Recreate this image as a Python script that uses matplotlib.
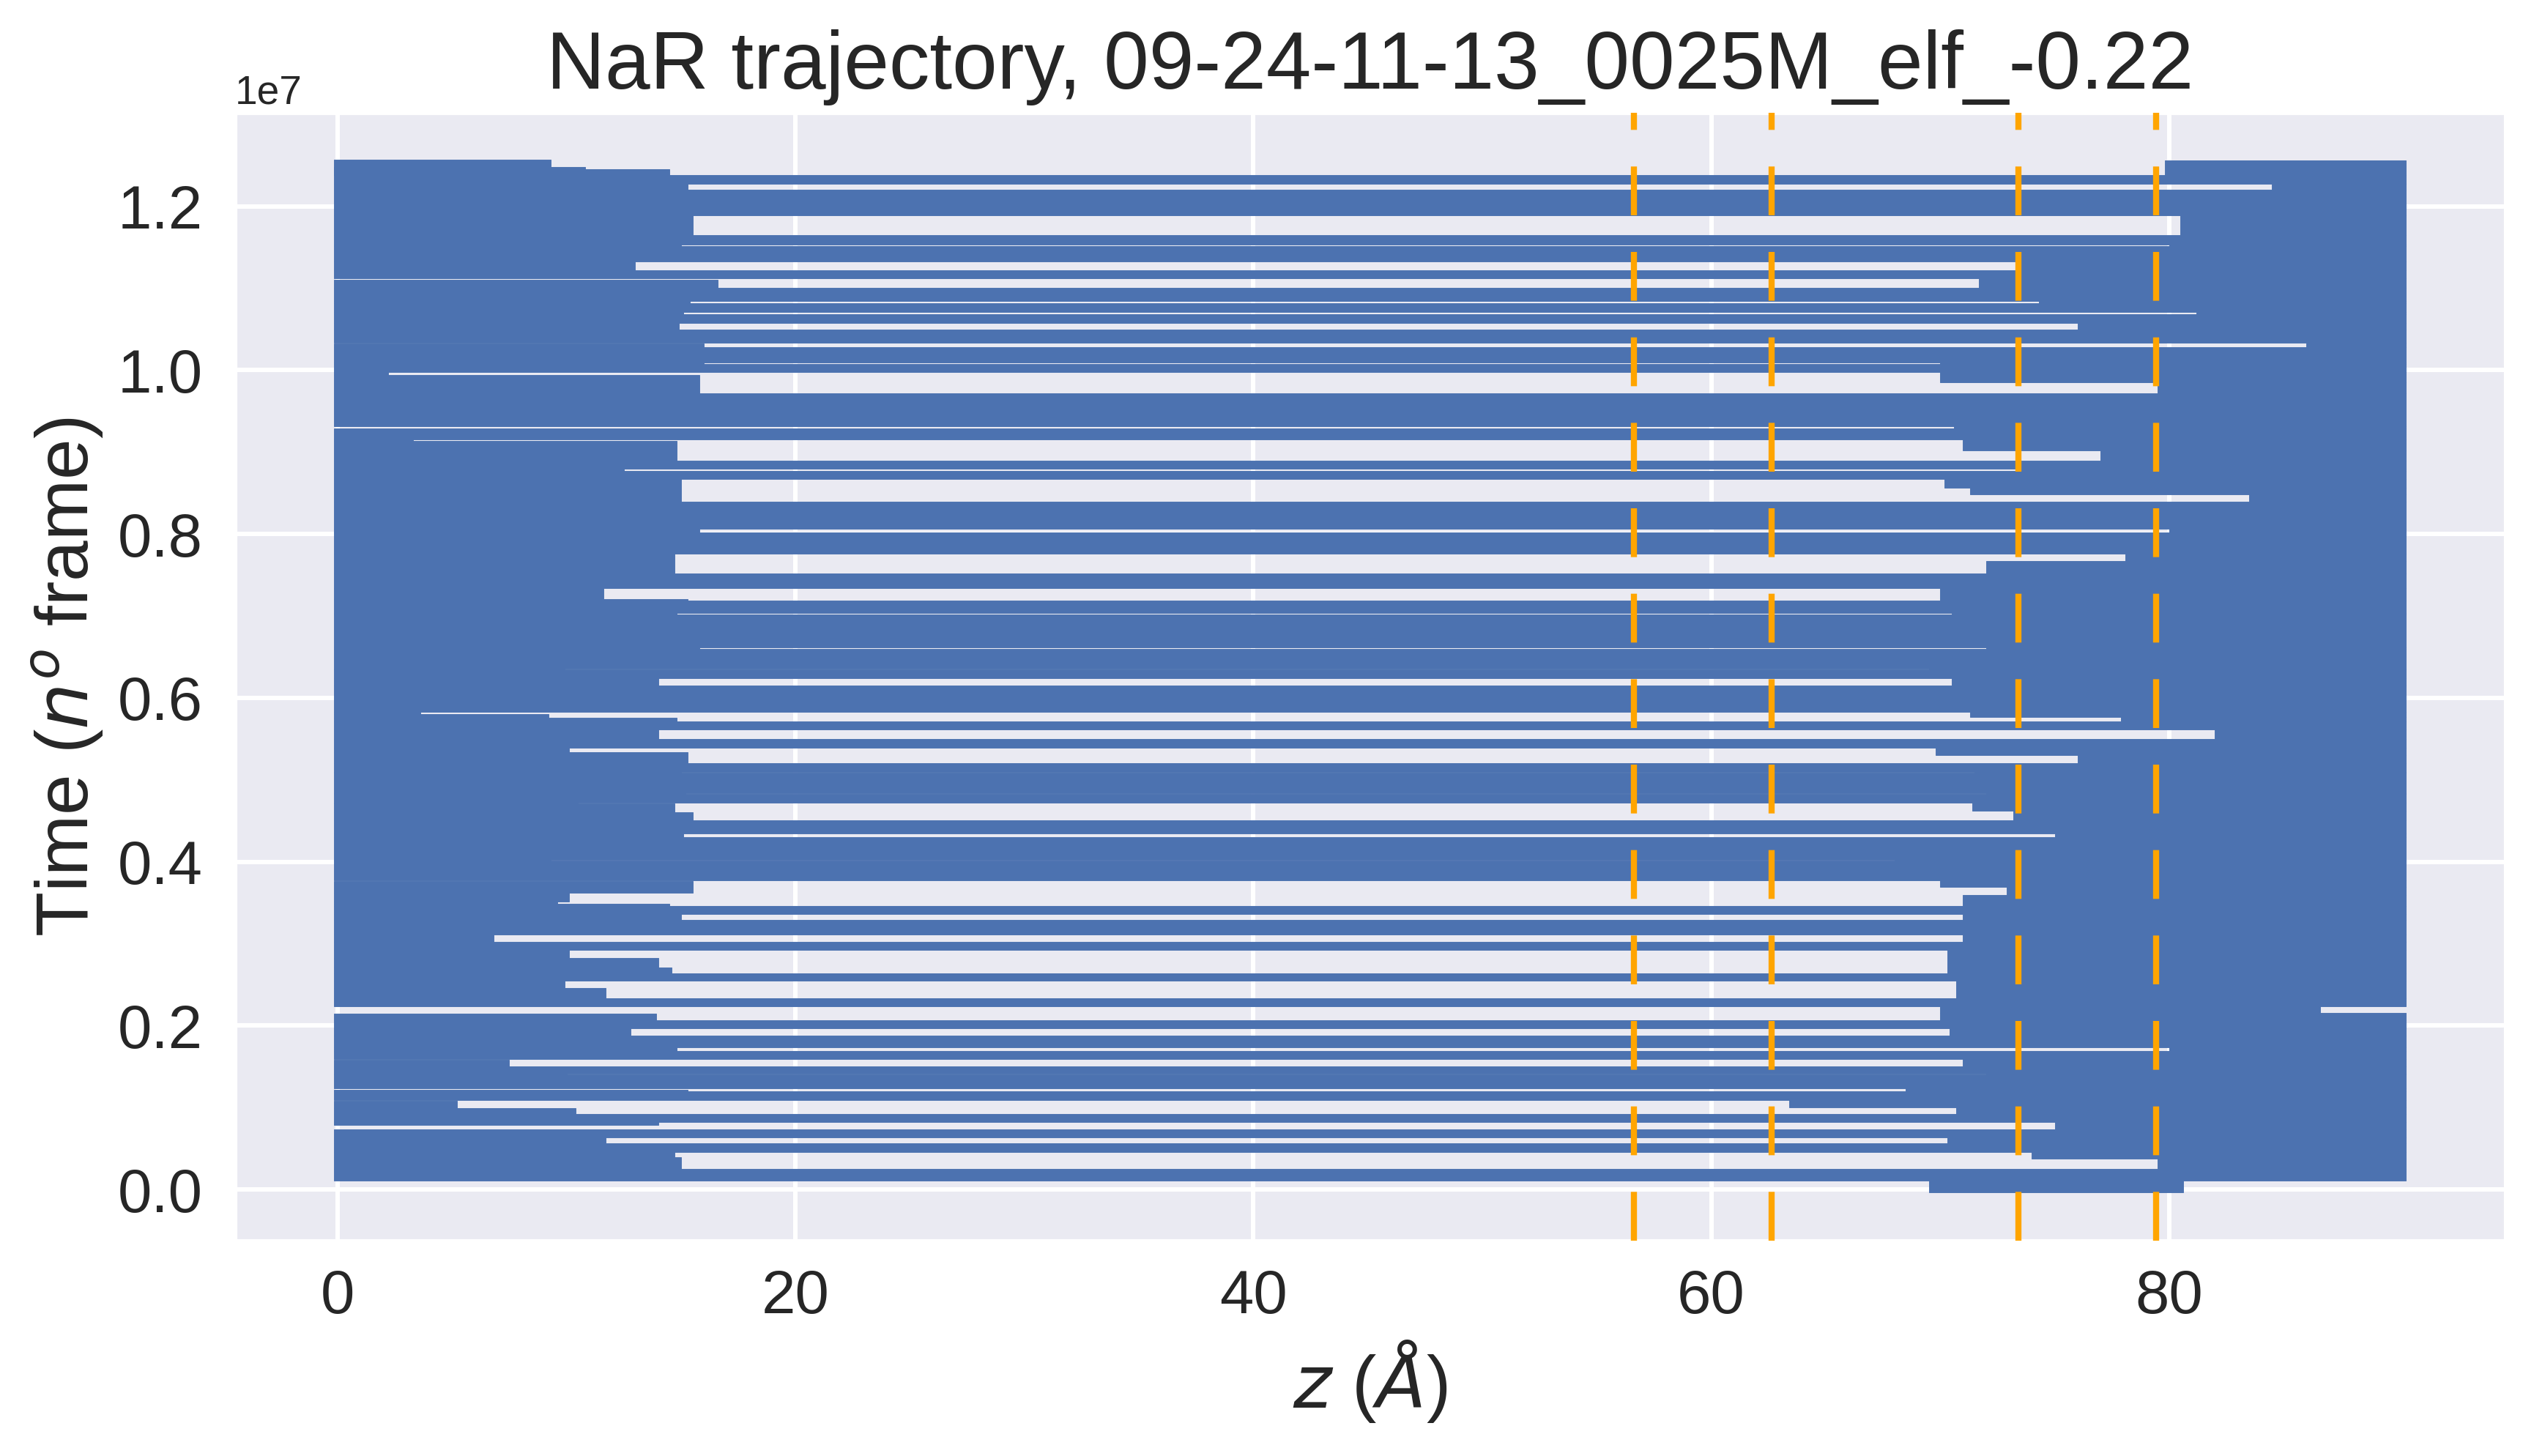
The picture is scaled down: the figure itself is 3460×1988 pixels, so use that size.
import matplotlib
matplotlib.use("Agg")
import matplotlib.pyplot as plt
import numpy as np
import seaborn as sns

# ---------------- data (time in units of 1e7 frames, z in Angstrom) ----------------
TIME_UNIT = 1e7
z_box = [-0.15, 90.35]          # extent of the sampled z positions

# horizontal bands that span the whole box
stripe_t0 = [1.2278, 1.1886, 1.1530, 1.1330, 1.1121, 1.0841, 1.0712, 1.0574, 1.0339, 1.0094,
             0.9974, 0.9316, 0.9152, 0.8796, 0.8671, 0.8062, 0.7764, 0.7337, 0.7036, 0.6613,
             0.6360, 0.6238, 0.5826, 0.5612, 0.5394, 0.5098, 0.4840, 0.4723, 0.4349, 0.4022,
             0.3771, 0.3358, 0.3113, 0.2922, 0.2544, 0.2237, 0.1970, 0.1734, 0.1592, 0.1416,
             0.1232, 0.1090, 0.0822, 0.0632, 0.0459, 0.0110]
stripe_t1 = [1.2384, 1.2206, 1.1646, 1.1517, 1.1219, 1.1006, 1.0819, 1.0686, 1.0494, 1.0285,
             1.0076, 0.9720, 0.9285, 0.8893, 0.8773, 0.8395, 0.8017, 0.7519, 0.7186, 0.7020,
             0.6597, 0.6345, 0.6150, 0.5714, 0.5501, 0.5203, 0.5086, 0.4828, 0.4505, 0.4300,
             0.4010, 0.3460, 0.3291, 0.3024, 0.2637, 0.2335, 0.2068, 0.1881, 0.1690, 0.1503,
             0.1404, 0.1201, 0.0925, 0.0734, 0.0565, 0.0254]

# occupancy near the left edge (from z_box[0] up to left_z1)
left_t0 = [1.2384, 1.2384, 1.2384, 1.2206, 1.1646, 1.1517, 1.1219, 1.1006, 1.0819, 1.0686,
           1.0494, 1.0285, 1.0076, 0.9720, 0.9938, 0.8893, 0.9138, 0.8773, 0.8395, 0.8017,
           0.7519, 0.7210, 0.7186, 0.7020, 0.6597, 0.6345, 0.6150, 0.5803, 0.5758, 0.5714,
           0.5501, 0.5337, 0.5203, 0.5086, 0.4828, 0.4710, 0.4600, 0.4505, 0.4300, 0.4010,
           0.3624, 0.3513, 0.3491, 0.3460, 0.3291, 0.3024, 0.2824, 0.2713, 0.2637, 0.2461,
           0.2335, 0.2068, 0.1881, 0.1690, 0.1503, 0.1404, 0.1201, 0.0990, 0.0925, 0.0789,
           0.0565, 0.0390, 0.0254]
left_t1 = [1.2567, 1.2477, 1.2451, 1.2278, 1.1886, 1.1530, 1.1330, 1.1105, 1.0841, 1.0712,
           1.0574, 1.0325, 1.0094, 0.9938, 0.9974, 0.9138, 0.9152, 0.8796, 0.8671, 0.8062,
           0.7764, 0.7337, 0.7210, 0.7036, 0.6613, 0.6360, 0.6238, 0.5826, 0.5803, 0.5758,
           0.5612, 0.5394, 0.5337, 0.5098, 0.4840, 0.4723, 0.4710, 0.4600, 0.4349, 0.4022,
           0.3767, 0.3624, 0.3513, 0.3491, 0.3358, 0.3113, 0.2922, 0.2824, 0.2713, 0.2544,
           0.2461, 0.2144, 0.1970, 0.1734, 0.1584, 0.1416, 0.1215, 0.1080, 0.0990, 0.0822,
           0.0632, 0.0459, 0.0390]
left_z1 = [9.3, 10.8, 14.5, 15.3, 15.5, 15.0, 13.0, 16.6, 15.4, 15.1,
           14.9, 16.0, 16.0, 15.8, 2.2, 14.8, 3.3, 12.5, 15.0, 15.8,
           14.7, 11.6, 15.3, 14.8, 15.8, 9.9, 14.0, 3.6, 9.2, 14.8,
           14.0, 10.1, 15.3, 15.0, 15.2, 10.5, 14.7, 15.5, 15.1, 9.3,
           15.5, 10.1, 9.6, 14.5, 15.0, 6.8, 10.1, 14.0, 14.6, 9.9,
           11.7, 13.9, 12.8, 14.8, 7.5, 10.0, 15.3, 5.2, 10.4, 14.0,
           11.7, 14.7, 15.0]

# occupancy near the right edge (from right_z0 to right_z1)
right_t0 = [1.2384, 1.2206, 1.1646, 1.1517, 1.1219, 1.1006, 1.0819, 1.0686, 1.0494, 1.0285,
            1.0076, 0.9850, 0.9720, 0.9285, 0.9020, 0.8893, 0.8773, 0.8569, 0.8480, 0.8395,
            0.8017, 0.7670, 0.7519, 0.7186, 0.7020, 0.6597, 0.6345, 0.6150, 0.5770, 0.5714,
            0.5501, 0.5300, 0.5203, 0.5086, 0.4828, 0.4620, 0.4505, 0.4300, 0.4010, 0.3690,
            0.3595, 0.3460, 0.3291, 0.3024, 0.2637, 0.2335, 0.2068, 0.2157, 0.1881, 0.1690,
            0.1503, 0.1404, 0.1201, 0.1000, 0.0925, 0.0734, 0.0565, 0.0380, 0.0254, -0.0040]
right_t1 = [1.2562, 1.2278, 1.1886, 1.1530, 1.1330, 1.1121, 1.0841, 1.0712, 1.0574, 1.0339,
            1.0094, 0.9974, 0.9850, 0.9316, 0.9152, 0.9020, 0.8796, 0.8671, 0.8569, 0.8480,
            0.8062, 0.7764, 0.7670, 0.7337, 0.7036, 0.6613, 0.6360, 0.6238, 0.5826, 0.5770,
            0.5612, 0.5394, 0.5300, 0.5098, 0.4840, 0.4723, 0.4620, 0.4349, 0.4022, 0.3771,
            0.3690, 0.3595, 0.3358, 0.3113, 0.2922, 0.2544, 0.2157, 0.2237, 0.1970, 0.1734,
            0.1592, 0.1416, 0.1232, 0.1090, 0.1000, 0.0822, 0.0632, 0.0459, 0.0380, 0.0110]
right_z0 = [79.8, 84.5, 80.5, 80.0, 73.5, 71.7, 74.3, 81.2, 76.0, 86.0,
            70.0, 70.0, 79.5, 70.6, 71.0, 77.0, 73.5, 70.2, 71.3, 83.5,
            80.0, 78.1, 72.0, 70.0, 70.5, 72.0, 69.5, 70.5, 71.3, 77.9,
            82.0, 69.8, 76.0, 71.5, 72.0, 71.4, 73.2, 75.0, 68.0, 70.0,
            72.9, 71.0, 71.0, 71.0, 70.3, 70.7, 70.0, 70.0, 70.4, 80.0,
            71.0, 72.0, 68.5, 63.4, 70.7, 75.0, 70.3, 74.0, 79.5, 69.5]
right_z1 = [90.35] * 47 + [86.6] + [90.35] * 11 + [80.6]

# membrane / layer positions (dashed lines)
layer_z = [56.62, 62.63, 73.43, 79.44]

title = "NaR trajectory, 09-24-11-13_0025M_elf_-0.22"

# ---------------- style ----------------
sns.set_theme(style="darkgrid")
plt.rcParams["font.family"] = ["Liberation Sans", "DejaVu Sans"]
plt.rcParams["mathtext.fontset"] = "dejavusans"
plt.rcParams["grid.linewidth"] = 1.45

BLUE = "#4C72B0"

fig = plt.figure(figsize=(3460 / 300, 1988 / 300), dpi=300)
W, H = 3460, 1988
ax = fig.add_axes([321 / W, 1 - 1693.6 / H, (3421 - 321) / W, (1693.6 - 154) / H])
ax.set_axisbelow(True)


def draw_bands(t0, t1, z0, z1):
    t0 = np.asarray(t0) * TIME_UNIT
    t1 = np.asarray(t1) * TIME_UNIT
    z0 = np.asarray(z0, dtype=float)
    z1 = np.asarray(z1, dtype=float)
    ax.barh(t0, z1 - z0, height=t1 - t0, left=z0, align="edge",
            color=BLUE, edgecolor=BLUE, linewidth=0.22, antialiased=True, zorder=2)


n = len(stripe_t0)
draw_bands(stripe_t0, stripe_t1, [z_box[0]] * n, [z_box[1]] * n)
draw_bands(left_t0, left_t1, [z_box[0]] * len(left_t0), left_z1)
draw_bands(right_t0, right_t1, right_z0, right_z1)

for z in layer_z:
    ax.axvline(z, color="orange", linewidth=2, linestyle=(0, (8, 6)), zorder=3)

ax.set_xlim(-4.48, 94.69)
ax.set_ylim(-0.0622 * TIME_UNIT, 1.3142 * TIME_UNIT)
ax.set_xticks([0, 20, 40, 60, 80])
ax.set_yticks(np.array([0.0, 0.2, 0.4, 0.6, 0.8, 1.0, 1.2]) * TIME_UNIT)

ax.tick_params(axis="both", length=0, labelsize=20)
ax.tick_params(axis="x", pad=9.3)
ax.tick_params(axis="y", pad=10.6)
ax.yaxis.get_offset_text().set_fontsize(13.2)

ax.set_title(title, fontsize=26.6, pad=8)
ax.set_xlabel(r"$z$ ($\AA$)", fontsize=24)
ax.set_ylabel(r"Time ($n^o$ frame)", fontsize=24)

fig.savefig("out.png", dpi=300)
